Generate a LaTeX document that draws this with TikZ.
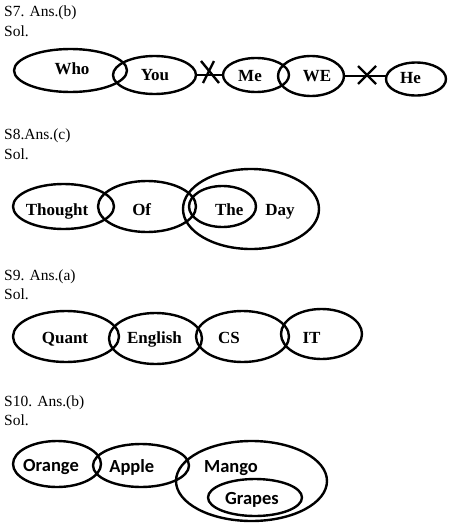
\documentclass[tikz,border=0pt]{standalone}
\usepackage{fontspec}
\setmainfont{Liberation Serif}
\newfontfamily\calib{Carlito}
\usetikzlibrary{shapes.geometric,calc}
\begin{document}
\begin{tikzpicture}[x=1pt,y=-1pt,
  ell/.style={draw,ellipse,line width=2.4pt,inner sep=0pt,outer sep=0pt},
  hdr/.style={anchor=base west,inner sep=0pt,font=\fontsize{15.5}{18}\selectfont},
  lab/.style={anchor=base,inner sep=0pt,font=\fontsize{17}{19}\selectfont\bfseries},
  slab/.style={anchor=base,inner sep=0pt,font=\fontsize{18.5}{21}\selectfont\calib\bfseries},
  conn/.style={line width=2.4pt},
  crs/.style={line width=2.4pt}]
\useasboundingbox (0,0) rectangle (454,525);
% ---------- S7
\node[hdr] (h7) at (4,16.7) {S7. Ans.(b)};
\node[hdr] (s7) at (4,36) {Sol.};
\node[ell,minimum width=113,minimum height=43] (who) at (70.5,70.5) {};
\node[ell,minimum width=83,minimum height=38] (you) at (154.5,75) {};
\node[ell,minimum width=66,minimum height=34] (me) at (256,75) {};
\node[ell,minimum width=66,minimum height=40] (we) at (311,76) {};
\node[ell,minimum width=60,minimum height=33] (he) at (416,79) {};
\node[lab] (twho) at (72,74) {Who};
\node[lab] (tyou) at (155,80.7) {You};
\node[lab] (tme) at (250,81) {Me};
\node[lab] (twe) at (317,81.7) {WE};
\node[lab] (the7) at (410.5,83) {He};
\draw[conn] (you.east) -- (me.west);
\draw[conn] (we.east) -- (he.west |- we.east);
\coordinate (x1) at (210,72);
\coordinate (x2) at (367,75);
\draw[crs] ($(x1)+(-9,-11)$) -- ($(x1)+(9,11)$);
\draw[crs] ($(x1)+(4,-11)$) -- ($(x1)+(-7,11)$);
\draw[crs] ($(x2)+(-9,-9)$) -- ($(x2)+(9,9)$);
\draw[crs] ($(x2)+(9,-9)$) -- ($(x2)+(-9,9)$);
% ---------- S8
\node[hdr] (h8) at (4,139.3) {S8.Ans.(c)};
\node[hdr] (s8) at (4,159.3) {Sol.};
\node[ell,minimum width=101,minimum height=45] (thought) at (63.5,206.5) {};
\node[ell,minimum width=98,minimum height=51] (of) at (147,206.5) {};
\node[ell,minimum width=136,minimum height=80] (day) at (251,209) {};
\node[ell,minimum width=67,minimum height=41] (the) at (222.5,206.5) {};
\node[lab] (tthought) at (57,215) {Thought};
\node[lab] (tof) at (141.7,215) {Of};
\node[lab] (tthe) at (229.3,215) {The};
\node[lab] (tday) at (280,215) {Day};
% ---------- S9
\node[hdr] (h9) at (4,280.7) {S9. Ans.(a)};
\node[hdr] (s9) at (4,299) {Sol.};
\node[ell,minimum width=106,minimum height=51] (quant) at (66,336.5) {};
\node[ell,minimum width=93,minimum height=51] (english) at (155.5,338.5) {};
\node[ell,minimum width=93,minimum height=51] (cs) at (242.5,336.5) {};
\node[ell,minimum width=81,minimum height=50] (it) at (321.5,334) {};
\node[lab] (tquant) at (65,343) {Quant};
\node[lab] (tenglish) at (154.5,343) {English};
\node[lab] (tcs) at (229,343) {CS};
\node[lab] (tit) at (311.5,343) {IT};
% ---------- S10
\node[hdr] (h10) at (4,406.7) {S10. Ans.(b)};
\node[hdr] (s10) at (4,425) {Sol.};
\node[ell,minimum width=88,minimum height=46] (orange) at (57,464) {};
\node[ell,minimum width=96,minimum height=43] (apple) at (141,465.5) {};
\node[ell,minimum width=151,minimum height=80] (mango) at (251.5,481) {};
\node[ell,minimum width=94,minimum height=37] (grapes) at (255,497.5) {};
\node[slab] (torange) at (51,471.7) {Orange};
\node[slab] (tapple) at (131.8,472) {Apple};
\node[slab] (tmango) at (231,472) {Mango};
\node[slab] (tgrapes) at (252,504) {Grapes};
\end{tikzpicture}
\end{document}
